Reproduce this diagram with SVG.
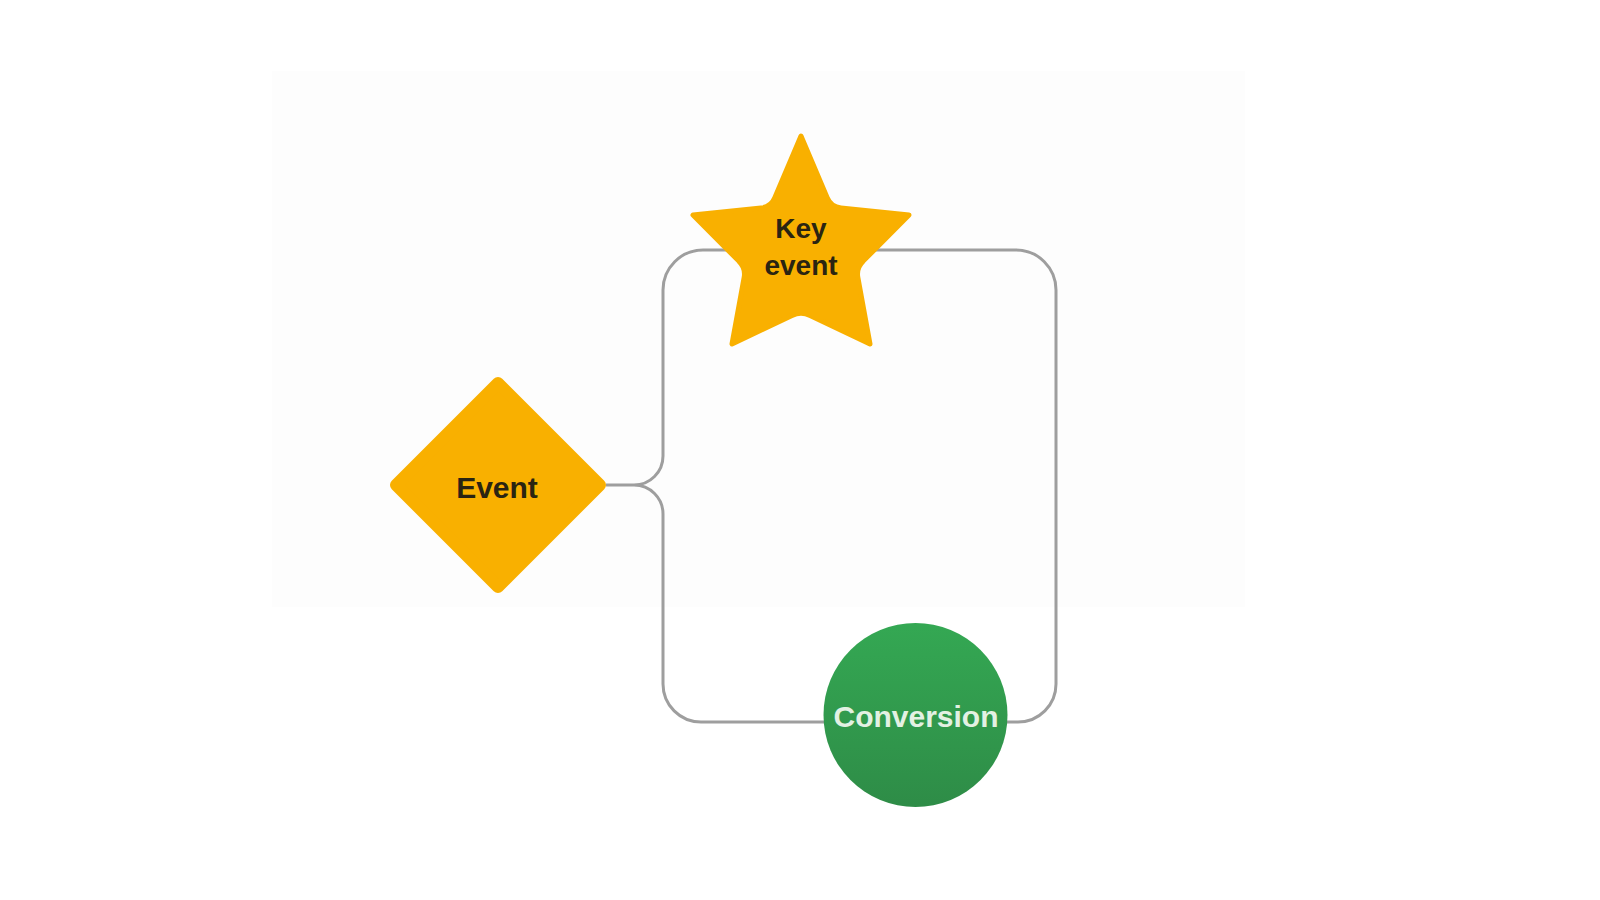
<svg xmlns="http://www.w3.org/2000/svg" width="1600" height="900" viewBox="0 0 1600 900">
  <defs>
    <linearGradient id="greenGrad" x1="0" y1="0" x2="0" y2="1">
      <stop offset="0" stop-color="#34a853"/>
      <stop offset="1" stop-color="#2e8c47"/>
    </linearGradient>
    <style>
      .conn { fill: none; stroke: #9e9e9e; stroke-width: 3; }
      .amber { fill: #f9b000; stroke: #f9b000; stroke-linejoin: round; }
      .lbl { font-family: "Liberation Sans", Arial, sans-serif; font-weight: bold; text-anchor: middle; dominant-baseline: central; }
      .dark { fill: #2a2412; }
      .light { fill: #e3f1e3; }
    </style>
  </defs>
  <rect x="0" y="0" width="1600" height="900" fill="#ffffff"/>
  <rect x="272" y="71" width="973" height="536" fill="#fdfdfd"/>

  <g id="connectors">
    <path class="conn" d="M606,485 H634 A29,29 0 0 0 663,456 V290 A40,40 0 0 1 703,250 H1016 A40,40 0 0 1 1056,290 V684 A38,38 0 0 1 1018,722 H701 A38,38 0 0 1 663,684 V514 A29,29 0 0 0 634,485"/>
  </g>

  <g id="node-event">
    <path class="amber" stroke-width="12" d="M498,383 L600,485 L498,587 L396,485 Z"/>
    <text class="lbl dark" x="497" y="487" font-size="30">Event</text>
  </g>

  <g id="node-key-event">
    <path class="amber" stroke-width="5" d="M801,136 L827.2,197.8 Q831,207 841,208 L909,215 L863.2,261.1 Q856,268 857.9,277.8 L870,344 L810,315.5 Q801,311 792,315.5 L732,344 L744.1,277.8 Q746,268 738.8,261.1 L693,215 L761,208 Q771,207 774.8,197.8 Z"/>
    <text class="lbl dark" font-size="28"><tspan x="801" y="228">Key</tspan><tspan x="801" y="265">event</tspan></text>
  </g>

  <g id="node-conversion">
    <circle cx="915.5" cy="715" r="92" fill="url(#greenGrad)"/>
    <text class="lbl light" x="916" y="716" font-size="30">Conversion</text>
  </g>
</svg>
